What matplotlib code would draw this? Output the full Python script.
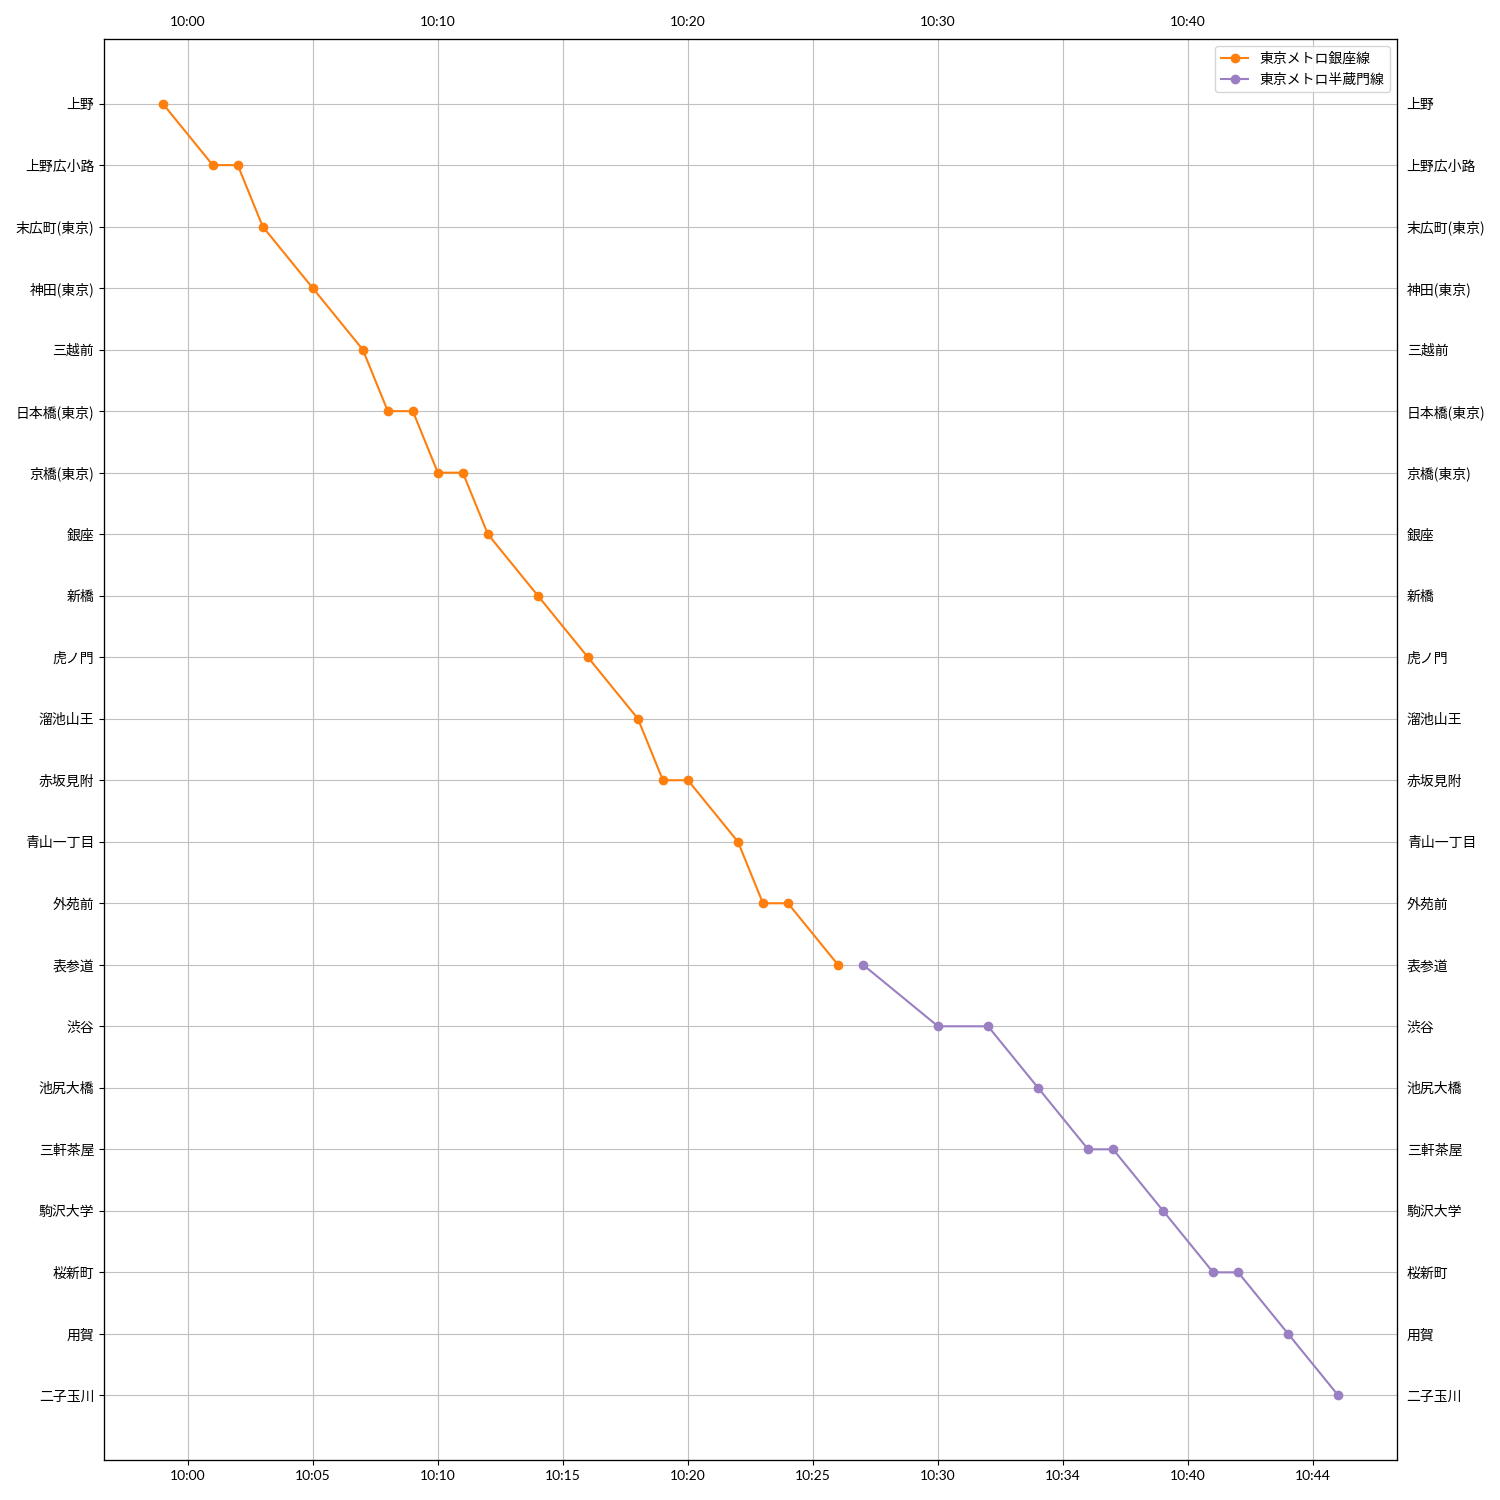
import matplotlib
matplotlib.use("Agg")
import matplotlib.pyplot as plt

plt.rcParams['font.family'] = ['Noto Sans CJK JP', 'DejaVu Sans']
plt.rcParams['font.size'] = 10

stations = ["上野", "上野広小路", "末広町(東京)", "神田(東京)", "三越前", "日本橋(東京)",
            "京橋(東京)", "銀座", "新橋", "虎ノ門", "溜池山王", "赤坂見附", "青山一丁目",
            "外苑前", "表参道", "渋谷", "池尻大橋", "三軒茶屋", "駒沢大学", "桜新町",
            "用賀", "二子玉川"]

ginza_label = "東京メトロ銀座線"
ginza_stops = ["上野", "上野広小路", "上野広小路", "末広町(東京)", "神田(東京)", "三越前",
               "日本橋(東京)", "日本橋(東京)", "京橋(東京)", "京橋(東京)", "銀座", "新橋",
               "虎ノ門", "溜池山王", "赤坂見附", "赤坂見附", "青山一丁目", "外苑前", "外苑前",
               "表参道"]
ginza_times = ["09:59", "10:01", "10:02", "10:03", "10:05", "10:07", "10:08", "10:09",
               "10:10", "10:11", "10:12", "10:14", "10:16", "10:18", "10:19", "10:20",
               "10:22", "10:23", "10:24", "10:26"]

hanzo_label = "東京メトロ半蔵門線"
hanzo_stops = ["表参道", "渋谷", "渋谷", "池尻大橋", "三軒茶屋", "三軒茶屋", "駒沢大学",
               "桜新町", "桜新町", "用賀", "二子玉川"]
hanzo_times = ["10:27", "10:30", "10:32", "10:34", "10:36", "10:37", "10:39", "10:41",
               "10:42", "10:44", "10:46"]

bottom_tick_times = ["10:00", "10:05", "10:10", "10:15", "10:20", "10:25", "10:30",
                     "10:35", "10:40", "10:45"]
bottom_tick_labels = ["10:00", "10:05", "10:10", "10:15", "10:20", "10:25", "10:30",
                      "10:34", "10:40", "10:44"]
top_tick_times = ["10:00", "10:10", "10:20", "10:30", "10:40"]
top_tick_labels = ["10:00", "10:10", "10:20", "10:30", "10:40"]


def to_min(t):
    h, m = t.split(":")
    return int(h) * 60 + int(m)


idx = {s: i for i, s in enumerate(stations)}

fig = plt.figure(figsize=(15, 15), dpi=100)
ax = fig.add_axes([0.0693, 0.0267, 0.8620, 0.9473])

ax.plot([to_min(t) for t in ginza_times], [idx[s] for s in ginza_stops],
        marker='o', color='#ff7f0e', label=ginza_label, zorder=3)
ax.plot([to_min(t) for t in hanzo_times], [idx[s] for s in hanzo_stops],
        marker='o', color='#9a80c2', label=hanzo_label, zorder=3)

ax.set_yticks(range(len(stations)))
ax.set_yticklabels(stations)
ax.invert_yaxis()
ax.set_xticks([to_min(t) for t in bottom_tick_times])
ax.set_xticklabels(bottom_tick_labels, family=['Lato', 'Noto Sans CJK JP'])
ax.grid(True, color='#c0c0c0', linewidth=0.8)
ax.set_axisbelow(True)
ax.legend(loc='upper right')

axr = ax.twinx()
axr.set_ylim(ax.get_ylim())
axr.set_yticks(range(len(stations)))
axr.set_yticklabels(stations)
axr.tick_params(axis='y', length=0, pad=7)

axt = ax.twiny()
axt.set_xlim(ax.get_xlim())
axt.set_xticks([to_min(t) for t in top_tick_times])
axt.set_xticklabels(top_tick_labels, family=['Lato', 'Noto Sans CJK JP'])
axt.tick_params(axis='x', length=0, pad=8)

fig.savefig("out.png", dpi=100)
